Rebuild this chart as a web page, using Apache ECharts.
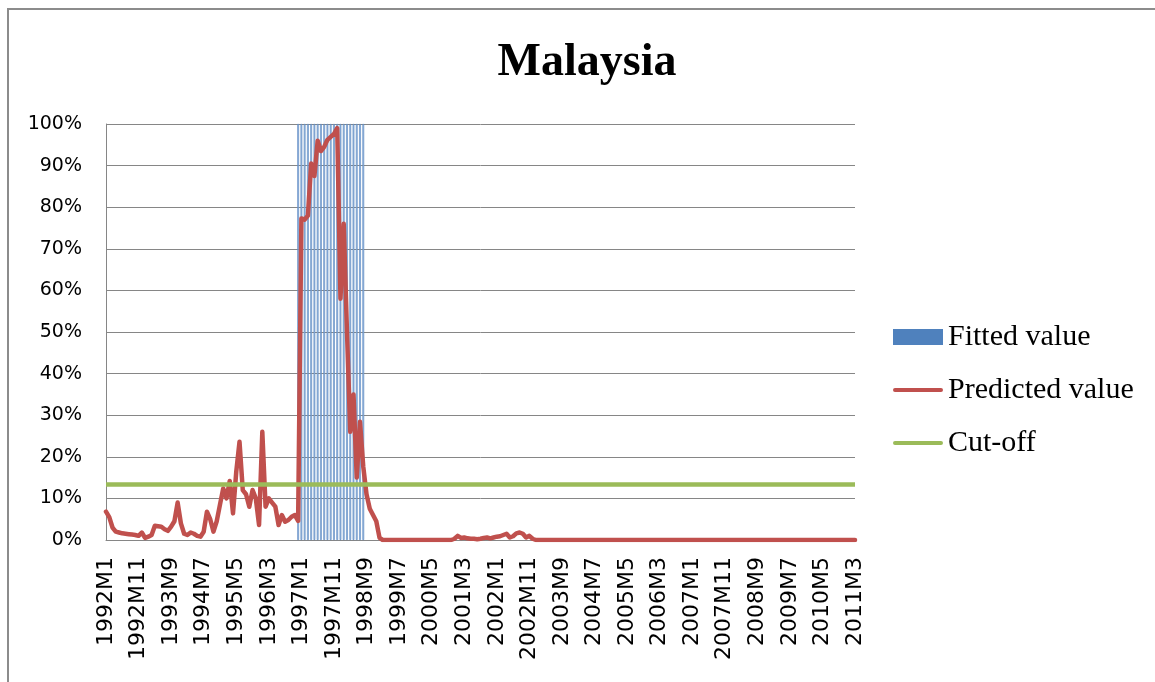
<!DOCTYPE html>
<html lang="en">
<head>
    <meta charset="UTF-8">
    <title>Malaysia</title>
    <script type="text/javascript" src="https://cdn.jsdelivr.net/npm/echarts@6/dist/echarts.min.js"></script>
    <style>
        html, body { margin: 0; padding: 0; background: #fff; }
        #chart { width: 1155px; height: 682px; }
    </style>
</head>
<body>
<div id="chart"></div>
<script type="text/javascript">
    // monthly categories 1992M1 .. 2011M3
    var firstYear = 1992, lastYear = 2011, lastMonth = 3;
    var months = [];
    for (var y = firstYear; y <= lastYear; y++) {
        for (var m = 1; m <= 12; m++) {
            if (y === lastYear && m > lastMonth) break;
            months.push(y + 'M' + m);
        }
    }

    // predicted crisis probability, %, one row per year
    var predicted = [
        6.8, 5.5, 3.0, 2.0, 1.8, 1.6, 1.5, 1.4, 1.3, 1.2, 1.0, 1.8,        // 1992
        0.5, 0.8, 1.2, 3.4, 3.3, 3.2, 2.6, 2.2, 3.2, 4.5, 9.0, 4.0,        // 1993
        1.5, 1.2, 1.8, 1.5, 1.0, 0.8, 2.0, 6.8, 5.0, 2.0, 4.5, 8.5,        // 1994
        12.4, 10.0, 14.2, 6.4, 16.4, 23.6, 12.0, 11.0, 8.0, 12.0, 10.0, 3.6, // 1995
        26.0, 8.0, 10.0, 9.0, 8.0, 3.6, 6.0, 4.4, 4.8, 5.6, 6.0, 4.6,      // 1996
        77.3, 77.0, 78.0, 90.5, 87.5, 96.0, 93.5, 94.5, 96.2, 96.9, 97.6, 99.0, // 1997
        58.0, 76.0, 50.0, 26.0, 35.0, 15.0, 28.4, 17.6, 11.0, 7.5, 6.0, 4.5, // 1998
        0.5, 0, 0, 0, 0, 0, 0, 0, 0, 0, 0, 0,                              // 1999
        0, 0, 0, 0, 0, 0, 0, 0, 0, 0, 0, 0.3,                              // 2000
        1.0, 0.5, 0.6, 0.4, 0.3, 0.3, 0.2, 0.3, 0.5, 0.6, 0.4, 0.6,        // 2001
        0.8, 0.9, 1.2, 1.5, 0.6, 0.9, 1.6, 1.8, 1.5, 0.6, 1.0, 0.3,        // 2002
        0, 0, 0, 0, 0, 0, 0, 0, 0, 0, 0, 0,                                // 2003
        0, 0, 0, 0, 0, 0, 0, 0, 0, 0, 0, 0,                                // 2004
        0, 0, 0, 0, 0, 0, 0, 0, 0, 0, 0, 0,                                // 2005
        0, 0, 0, 0, 0, 0, 0, 0, 0, 0, 0, 0,                                // 2006
        0, 0, 0, 0, 0, 0, 0, 0, 0, 0, 0, 0,                                // 2007
        0, 0, 0, 0, 0, 0, 0, 0, 0, 0, 0, 0,                                // 2008
        0, 0, 0, 0, 0, 0, 0, 0, 0, 0, 0, 0,                                // 2009
        0, 0, 0, 0, 0, 0, 0, 0, 0, 0, 0, 0,                                // 2010
        0, 0, 0                                                            // 2011
    ];

    // fitted (actual crisis) months, 100 = crisis
    var fitted = [
        0, 0, 0, 0, 0, 0, 0, 0, 0, 0, 0, 0,                                // 1992
        0, 0, 0, 0, 0, 0, 0, 0, 0, 0, 0, 0,                                // 1993
        0, 0, 0, 0, 0, 0, 0, 0, 0, 0, 0, 0,                                // 1994
        0, 0, 0, 0, 0, 0, 0, 0, 0, 0, 0, 0,                                // 1995
        0, 0, 0, 0, 0, 0, 0, 0, 0, 0, 0, 100,                              // 1996
        100, 100, 100, 100, 100, 100, 100, 100, 100, 100, 100, 100,        // 1997
        100, 100, 100, 100, 100, 100, 100, 100, 0, 0, 0, 0,                // 1998
        0, 0, 0, 0, 0, 0, 0, 0, 0, 0, 0, 0,                                // 1999
        0, 0, 0, 0, 0, 0, 0, 0, 0, 0, 0, 0,                                // 2000
        0, 0, 0, 0, 0, 0, 0, 0, 0, 0, 0, 0,                                // 2001
        0, 0, 0, 0, 0, 0, 0, 0, 0, 0, 0, 0,                                // 2002
        0, 0, 0, 0, 0, 0, 0, 0, 0, 0, 0, 0,                                // 2003
        0, 0, 0, 0, 0, 0, 0, 0, 0, 0, 0, 0,                                // 2004
        0, 0, 0, 0, 0, 0, 0, 0, 0, 0, 0, 0,                                // 2005
        0, 0, 0, 0, 0, 0, 0, 0, 0, 0, 0, 0,                                // 2006
        0, 0, 0, 0, 0, 0, 0, 0, 0, 0, 0, 0,                                // 2007
        0, 0, 0, 0, 0, 0, 0, 0, 0, 0, 0, 0,                                // 2008
        0, 0, 0, 0, 0, 0, 0, 0, 0, 0, 0, 0,                                // 2009
        0, 0, 0, 0, 0, 0, 0, 0, 0, 0, 0, 0,                                // 2010
        0, 0, 0                                                            // 2011
    ];

    var cutoff = 13.4;

    // legend line icon: 50x16 box with a 4px bar in the middle
    var lineIcon = 'path://M0,0L0.01,0ZM2,6L48,6A2,2,0,0,1,48,10L2,10A2,2,0,0,1,2,6ZM50,16L49.99,16Z';

    var chart = echarts.init(document.getElementById('chart'));

    var option = {
        backgroundColor: '#fff',
        animation: false,
        title: {
            text: 'Malaysia',
            left: 587,
            textAlign: 'center',
            top: 40,
            padding: 0,
            textStyle: {
                fontFamily: 'Liberation Serif',
                fontWeight: 'bold',
                fontSize: 46,
                color: '#000'
            }
        },
        graphic: [{
            type: 'rect',
            shape: { x: 8, y: 9, width: 1170, height: 700 },
            style: { fill: 'none', stroke: '#8c8c8c', lineWidth: 2 },
            silent: true
        }],
        legend: {
            orient: 'vertical',
            left: 893,
            top: 322,
            padding: 0,
            itemWidth: 50,
            itemHeight: 16,
            itemGap: 23,
            textStyle: {
                fontFamily: 'Liberation Serif',
                fontSize: 30,
                lineHeight: 30,
                color: '#000'
            },
            data: [
                { name: 'Fitted value', icon: 'rect', itemStyle: { color: '#4F81BD', borderWidth: 0 } },
                { name: 'Predicted value', icon: lineIcon, itemStyle: { color: '#C0504D', borderWidth: 0 } },
                { name: 'Cut-off', icon: lineIcon, itemStyle: { color: '#9BBB59', borderWidth: 0 } }
            ]
        },
        grid: {
            left: 106,
            right: 300,
            top: 124,
            bottom: 142
        },
        xAxis: {
            type: 'category',
            data: months,
            boundaryGap: false,
            axisLine: { lineStyle: { color: '#868686', width: 1 } },
            axisTick: { show: false },
            axisLabel: {
                interval: 9,
                rotate: 90,
                margin: 17,
                fontFamily: 'DejaVu Sans',
                fontSize: 22,
                color: '#000'
            },
            splitLine: { show: false }
        },
        yAxis: {
            type: 'value',
            min: 0,
            max: 100,
            interval: 10,
            axisLine: { show: true, lineStyle: { color: '#868686', width: 1 } },
            axisTick: { show: false },
            axisLabel: {
                formatter: '{value}%',
                margin: 24,
                fontFamily: 'DejaVu Sans',
                fontSize: 19,
                color: '#000'
            },
            splitLine: { lineStyle: { color: '#868686', width: 1 } }
        },
        series: [
            {
                name: 'Fitted value',
                type: 'bar',
                data: fitted.map(function (v) { return v || '-'; }),
                barWidth: 1.7,
                itemStyle: {
                    color: '#A9C2E4',
                    borderColor: '#4F81BD',
                    borderWidth: 0.6
                },
                z: 1
            },
            {
                name: 'Predicted value',
                type: 'line',
                data: predicted,
                showSymbol: false,
                symbol: 'none',
                color: '#C0504D',
                lineStyle: { color: '#C0504D', width: 4.5, cap: 'round', join: 'round' },
                z: 3
            },
            {
                name: 'Cut-off',
                type: 'line',
                data: [],
                symbol: 'none',
                color: '#9BBB59',
                lineStyle: { color: '#9BBB59', width: 4.5 },
                markLine: {
                    silent: true,
                    symbol: 'none',
                    label: { show: false },
                    lineStyle: { color: '#9BBB59', width: 4.5, type: 'solid' },
                    data: [{ yAxis: cutoff }]
                },
                z: 2
            }
        ]
    };

    chart.setOption(option);
</script>
</body>
</html>
